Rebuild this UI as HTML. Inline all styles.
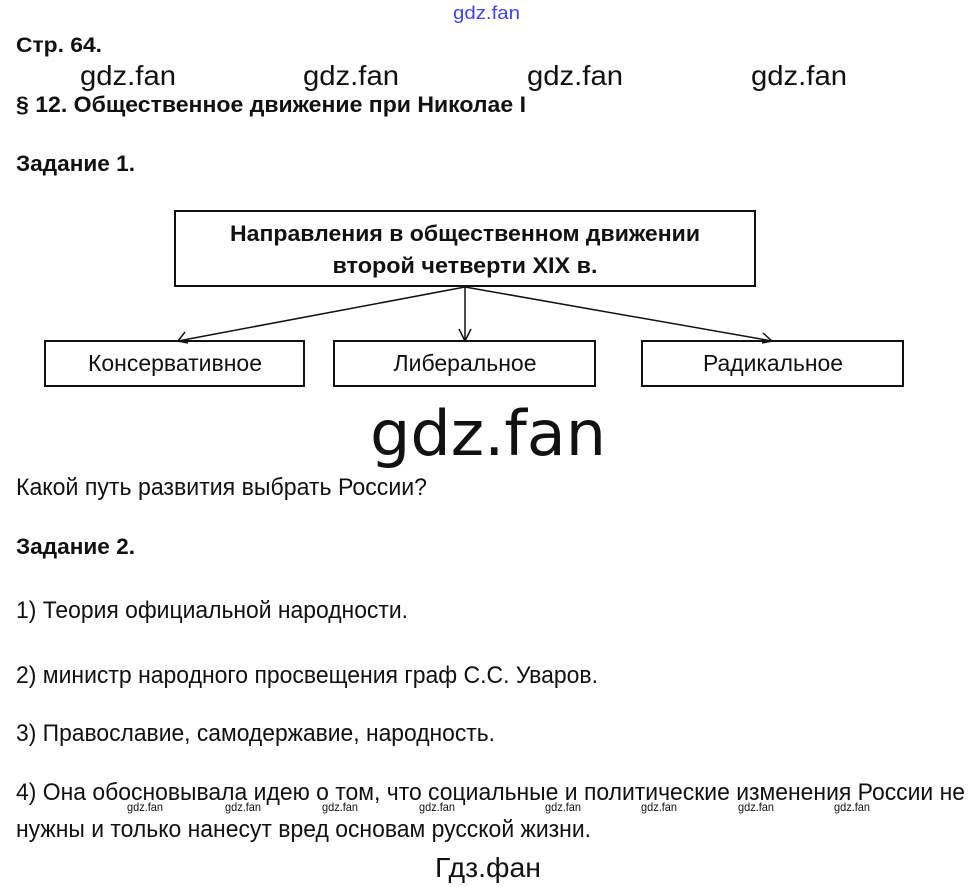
<!DOCTYPE html>
<html><head><meta charset="utf-8"><style>
html,body{margin:0;padding:0;background:#fff;width:971px;height:887px;overflow:hidden}
svg{display:block}
text{font-family:"Liberation Sans","Noto Sans CJK SC",sans-serif;fill:#111}
.b{font-weight:bold}
</style></head><body>
<svg width="971" height="887" viewBox="0 0 971 887" xmlns="http://www.w3.org/2000/svg">
<text x="453" y="19" font-size="18" style="fill:#4444ee" textLength="67" lengthAdjust="spacingAndGlyphs">gdz.fan</text>
<text class="b" x="16" y="52" font-size="21" textLength="86" lengthAdjust="spacingAndGlyphs">Стр. 64.</text>
<text x="80" y="85" font-size="28" textLength="96" lengthAdjust="spacingAndGlyphs">gdz.fan</text>
<text x="303" y="85" font-size="28" textLength="96" lengthAdjust="spacingAndGlyphs">gdz.fan</text>
<text x="527" y="85" font-size="28" textLength="96" lengthAdjust="spacingAndGlyphs">gdz.fan</text>
<text x="751" y="85" font-size="28" textLength="96" lengthAdjust="spacingAndGlyphs">gdz.fan</text>
<text class="b" x="16" y="112" font-size="22" textLength="510" lengthAdjust="spacingAndGlyphs">§ 12. Общественное движение при Николае I</text>
<text class="b" x="16" y="171" font-size="22" textLength="119" lengthAdjust="spacingAndGlyphs">Задание 1.</text>

<rect x="175" y="211" width="580" height="75" fill="none" stroke="#111" stroke-width="2"/>
<text class="b" x="465" y="241" font-size="22" text-anchor="middle" textLength="470" lengthAdjust="spacingAndGlyphs">Направления в общественном движении</text>
<text class="b" x="465" y="273" font-size="22" text-anchor="middle" textLength="265" lengthAdjust="spacingAndGlyphs">второй четверти XIX в.</text>

<g stroke="#111" stroke-width="1.5" fill="none">
<line x1="465" y1="287" x2="178" y2="341"/>
<line x1="465" y1="287" x2="465" y2="341"/>
<line x1="465" y1="287" x2="772" y2="341"/>
<polyline points="185,332 178,341 188,343"/>
<polyline points="459,329 465,341 471,329"/>
<polyline points="763,333 772,341 762,343"/>
</g>
<rect x="45" y="341" width="259" height="45" fill="none" stroke="#111" stroke-width="2"/>
<rect x="334" y="341" width="261" height="45" fill="none" stroke="#111" stroke-width="2"/>
<rect x="642" y="341" width="261" height="45" fill="none" stroke="#111" stroke-width="2"/>
<text x="175" y="371" font-size="23" text-anchor="middle" textLength="174" lengthAdjust="spacingAndGlyphs">Консервативное</text>
<text x="465" y="371" font-size="23" text-anchor="middle" textLength="143" lengthAdjust="spacingAndGlyphs">Либеральное</text>
<text x="773" y="371" font-size="23" text-anchor="middle" textLength="140" lengthAdjust="spacingAndGlyphs">Радикальное</text>

<text x="370" y="455" font-size="62" style="font-family:'DejaVu Sans',sans-serif" textLength="236" lengthAdjust="spacingAndGlyphs">gdz.fan</text>
<text x="16" y="495" font-size="24" textLength="411" lengthAdjust="spacingAndGlyphs">Какой путь развития выбрать России?</text>
<text class="b" x="16" y="554" font-size="22" textLength="119" lengthAdjust="spacingAndGlyphs">Задание 2.</text>
<text x="16" y="618" font-size="24" textLength="392" lengthAdjust="spacingAndGlyphs">1) Теория официальной народности.</text>
<text x="16" y="683" font-size="24" textLength="582" lengthAdjust="spacingAndGlyphs">2) министр народного просвещения граф С.С. Уваров.</text>
<text x="16" y="741" font-size="24" textLength="479" lengthAdjust="spacingAndGlyphs">3) Православие, самодержавие, народность.</text>
<text x="16" y="800" font-size="24" textLength="949" lengthAdjust="spacingAndGlyphs">4) Она обосновывала идею о том, что социальные и политические изменения России не</text>
<g font-size="12">
<text x="127" y="811" textLength="36" lengthAdjust="spacingAndGlyphs">gdz.fan</text><text x="225" y="811" textLength="36" lengthAdjust="spacingAndGlyphs">gdz.fan</text><text x="322" y="811" textLength="36" lengthAdjust="spacingAndGlyphs">gdz.fan</text><text x="419" y="811" textLength="36" lengthAdjust="spacingAndGlyphs">gdz.fan</text>
<text x="545" y="811" textLength="36" lengthAdjust="spacingAndGlyphs">gdz.fan</text><text x="641" y="811" textLength="36" lengthAdjust="spacingAndGlyphs">gdz.fan</text><text x="738" y="811" textLength="36" lengthAdjust="spacingAndGlyphs">gdz.fan</text><text x="834" y="811" textLength="36" lengthAdjust="spacingAndGlyphs">gdz.fan</text>
</g>
<text x="16" y="837" font-size="24" textLength="575" lengthAdjust="spacingAndGlyphs">нужны и только нанесут вред основам русской жизни.</text>
<text x="488" y="877" font-size="28" text-anchor="middle" textLength="106" lengthAdjust="spacingAndGlyphs">Гдз.фан</text>
</svg>
</body></html>
